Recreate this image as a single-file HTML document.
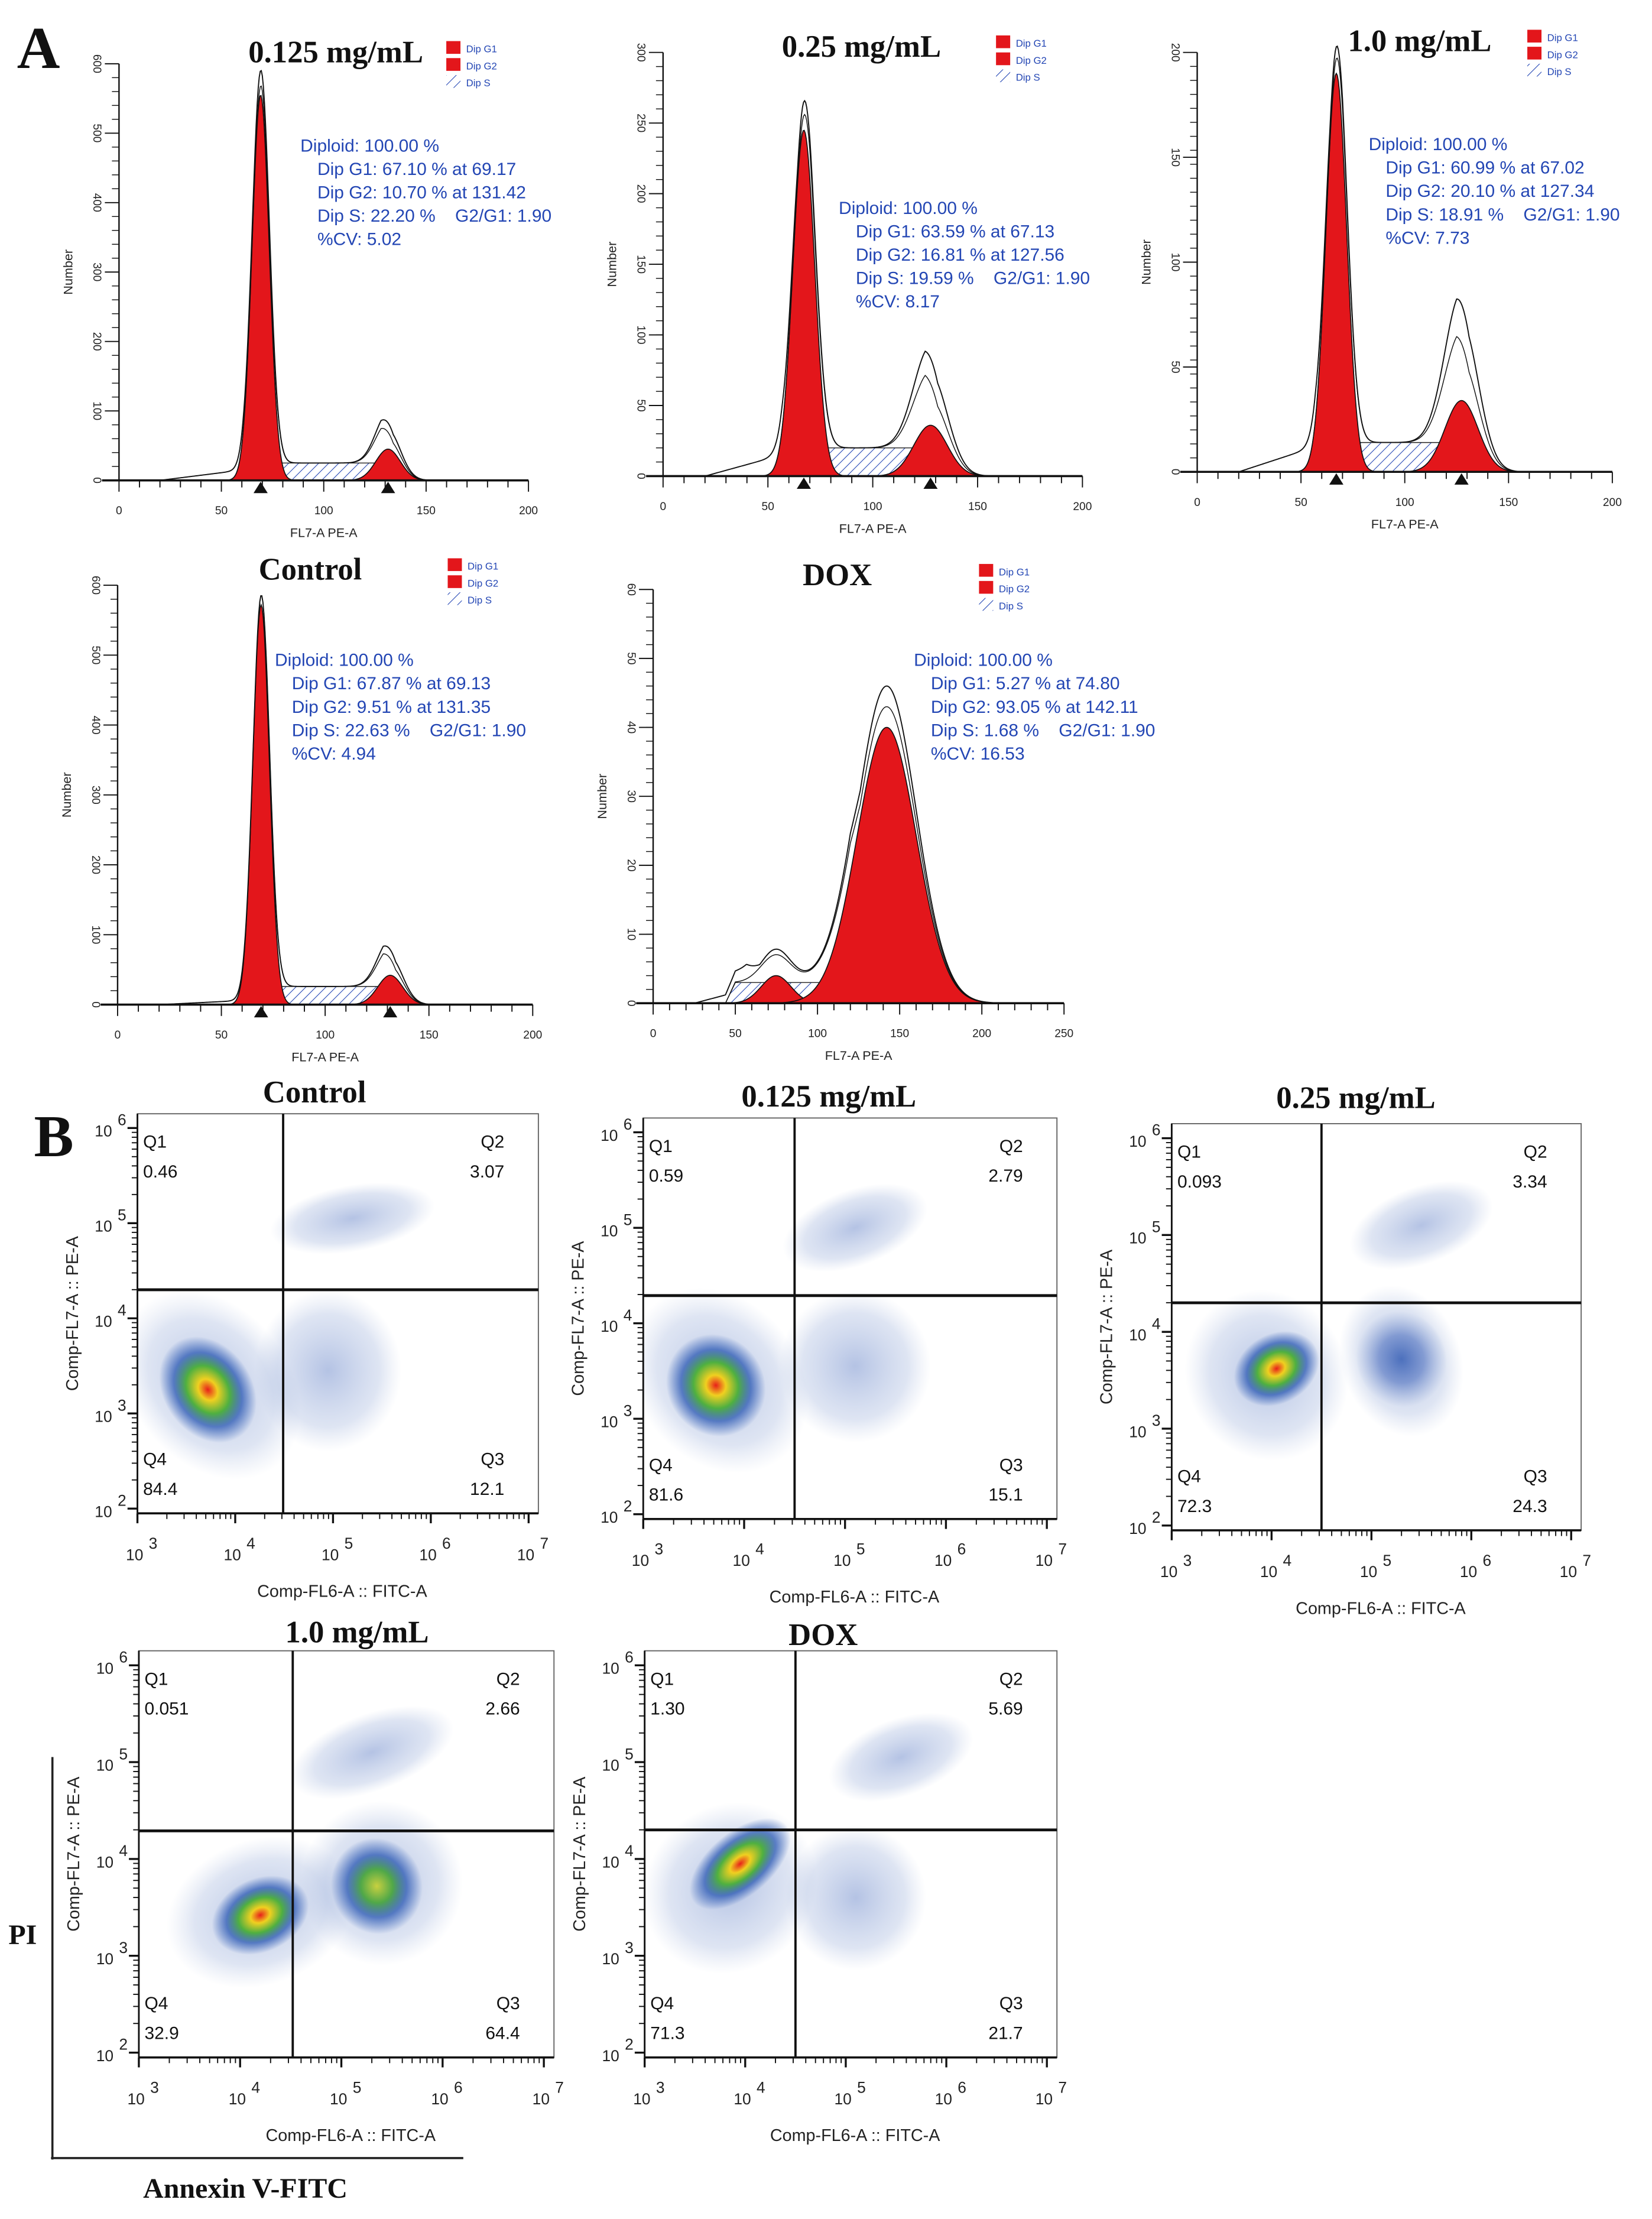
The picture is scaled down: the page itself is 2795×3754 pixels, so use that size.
<!DOCTYPE html>
<html><head><meta charset="utf-8">
<style>
html,body{margin:0;padding:0;background:#fff;}
svg{display:block;}
.ttl{font-family:"Liberation Serif",serif;font-weight:bold;font-size:22px;fill:#111;}
.stat{font-family:"Liberation Sans",sans-serif;font-size:12.5px;fill:#2346b4;white-space:pre;}
.leg{font-family:"Liberation Sans",sans-serif;font-size:7px;fill:#2346b4;}
.tk{font-family:"Liberation Sans",sans-serif;font-size:8px;fill:#222;}
.ax{font-family:"Liberation Sans",sans-serif;font-size:9px;fill:#222;}
.dtk{font-family:"Liberation Sans",sans-serif;font-size:11px;fill:#222;}
.dax{font-family:"Liberation Sans",sans-serif;font-size:12px;fill:#222;}
.q{font-family:"Liberation Sans",sans-serif;font-size:12.5px;fill:#111;}
</style></head>
<body>
<svg id="fig" xmlns="http://www.w3.org/2000/svg" width="2795" height="3754" viewBox="0 0 1166 1566" preserveAspectRatio="none">
<defs>
<pattern id="hatch" patternUnits="userSpaceOnUse" width="5" height="5" patternTransform="rotate(45)">
<line x1="0" y1="0" x2="0" y2="5" stroke="#2346b4" stroke-width="0.9"/></pattern>
<radialGradient id="hot"><stop offset="0" stop-color="#e8201a"/><stop offset="0.2" stop-color="#f0d020"/><stop offset="0.45" stop-color="#4fb040"/><stop offset="0.7" stop-color="#2050b0" stop-opacity="0.7"/><stop offset="1" stop-color="#2050b0" stop-opacity="0"/></radialGradient>
<radialGradient id="warm"><stop offset="0" stop-color="#c8d040"/><stop offset="0.35" stop-color="#50a848"/><stop offset="0.65" stop-color="#2050b0" stop-opacity="0.7"/><stop offset="1" stop-color="#2050b0" stop-opacity="0"/></radialGradient>
<radialGradient id="dense"><stop offset="0" stop-color="#2a55b0" stop-opacity="0.75"/><stop offset="0.5" stop-color="#3a60b8" stop-opacity="0.5"/><stop offset="1" stop-color="#6a88c8" stop-opacity="0"/></radialGradient>
<radialGradient id="sparse"><stop offset="0" stop-color="#3a60b8" stop-opacity="0.38"/><stop offset="0.7" stop-color="#6a88c8" stop-opacity="0.22"/><stop offset="1" stop-color="#8aa0d0" stop-opacity="0"/></radialGradient>
</defs>
<text x="12" y="48" font-family="Liberation Serif,serif" font-weight="bold" font-size="42" fill="#111">A</text>
<text x="24" y="816" font-family="Liberation Serif,serif" font-weight="bold" font-size="42" fill="#111">B</text>
<g id="hists"></g>
<g id="dots"></g>
<g>
<line x1="37" y1="1240" x2="37" y2="1524" stroke="#222" stroke-width="1.5"/>
<line x1="36" y1="1523" x2="327" y2="1523" stroke="#222" stroke-width="1.5"/>
<text x="6" y="1372" font-family="Liberation Serif,serif" font-weight="bold" font-size="20" fill="#111">PI</text>
<text x="101" y="1551" font-family="Liberation Serif,serif" font-weight="bold" font-size="20" fill="#111">Annexin V-FITC</text>
</g>
</svg>
<script>
// ---- Histogram data (G1/G2 = [mean, peak count, sd]; S = [start, end, level]; raw = multipliers)
const histTitles = ["0.125 mg/mL","0.25 mg/mL","1.0 mg/mL","Control","DOX"];
const histYMax = [600,300,200,600,60];
const histXMax = [200,200,200,200,250];
const histYTicks = [[0,100,200,300,400,500,600],[0,50,100,150,200,250,300],[0,50,100,150,200],[0,100,200,300,400,500,600],[0,10,20,30,40,50,60]];
const histXTicks = [[0,50,100,150,200],[0,50,100,150,200],[0,50,100,150,200],[0,50,100,150,200],[0,50,100,150,200,250]];
const histG1 = [[69.17,555,4.2],[67.13,245,5.2],[67.02,190,5.0],[69.13,572,4.0],[74.8,4,9]];
const histG2 = [[131.42,45,6],[127.56,36,8],[127.34,34,8],[131.35,42,6],[142.11,40,18]];
const histS = [[72,128,25],[70,125,20],[70,125,14],[72,128,26],[50,120,3]];
const histRawG1 = [1.04,1.04,1.03,1.0,1.2];
const histRawG2 = [1.6,2.0,2.1,1.6,1.15];
const histDebris = [15,15,12,6,2];
const histStats = [
 ["Diploid: 100.00 %","Dip G1: 67.10 % at 69.17","Dip G2: 10.70 % at 131.42","Dip S: 22.20 %    G2/G1: 1.90","%CV: 5.02"],
 ["Diploid: 100.00 %","Dip G1: 63.59 % at 67.13","Dip G2: 16.81 % at 127.56","Dip S: 19.59 %    G2/G1: 1.90","%CV: 8.17"],
 ["Diploid: 100.00 %","Dip G1: 60.99 % at 67.02","Dip G2: 20.10 % at 127.34","Dip S: 18.91 %    G2/G1: 1.90","%CV: 7.73"],
 ["Diploid: 100.00 %","Dip G1: 67.87 % at 69.13","Dip G2: 9.51 % at 131.35","Dip S: 22.63 %    G2/G1: 1.90","%CV: 4.94"],
 ["Diploid: 100.00 %","Dip G1: 5.27 % at 74.80","Dip G2: 93.05 % at 142.11","Dip S: 1.68 %    G2/G1: 1.90","%CV: 16.53"]];
// layout (px)
const histBox = [[84,45,373,339],[468,37,764,336],[845,37,1138,333],[83,413,376,709],[461,416,751,708]];
const histTitlePos = [[237,44],[608,40],[1002,36],[219,409],[591,413]];
const histStatPos = [[212,107],[592,151],[966,106],[194,470],[645,470]];

const NS="http://www.w3.org/2000/svg";
function mk(tag,attrs,parent,txt){const e=document.createElementNS(NS,tag);for(const k in attrs)e.setAttribute(k,attrs[k]);if(txt!==undefined)e.textContent=txt;parent.appendChild(e);return e;}
function gauss(x,c){return c[1]*Math.exp(-0.5*Math.pow((x-c[0])/c[2],2));}
function sComp(x,s){if(x<s[0]-6||x>s[1]+6)return 0;let f=1;if(x<s[0])f=(x-(s[0]-6))/6;if(x>s[1])f=((s[1]+6)-x)/6;return s[2]*f;}

const H=document.getElementById('hists');
for(let i=0;i<5;i++){
 const [x0,y0,x1,y1]=histBox[i];
 const g=mk('g',{},H);
 
 
 const sx=v=>x0+(x1-x0)*v/histXMax[i];
 const sy=v=>y1-(y1-y0)*Math.min(v,histYMax[i]*1.02)/histYMax[i];
 const step=0.5;
 let d='M'+sx(histS[i][0]-6)+','+y1;
 for(let x=histS[i][0]-6;x<=histS[i][1]+6;x+=step)d+=' L'+sx(x)+','+sy(sComp(x,histS[i]));
 d+=' L'+sx(histS[i][1]+6)+','+y1+'Z';
 const sp=mk('path',{d:d,fill:'url(#hatch)',stroke:'#222','stroke-width':0.6},g);
 
 
 [histG1[i],histG2[i]].forEach((c,k)=>{
  let p='M'+sx(c[0]-4*c[2])+','+y1;
  for(let x=c[0]-4*c[2];x<=c[0]+4*c[2];x+=step)p+=' L'+sx(x)+','+sy(gauss(x,c));
  p+=' L'+sx(c[0]+4*c[2])+','+y1+'Z';
  const e=mk('path',{d:p,fill:'#e3161b',stroke:'#111','stroke-width':0.7},g);
  
  
 });
 const xs0=histXMax[i]*0.1;
 let r='',r2='';
 for(let x=xs0;x<=histXMax[i]*0.95;x+=step){
  const lim=histG1[i][0]-2*histG1[i][2];
  const deb=histDebris[i]*Math.max(0,Math.min(1,(x-xs0)/(lim-xs0)))*Math.max(0,Math.min(1,(lim+8-x)/8));
  const v=gauss(x,histG1[i])*histRawG1[i]+gauss(x,histG2[i])*histRawG2[i]+sComp(x,histS[i])+deb;
  const v2=gauss(x,histG1[i])+gauss(x,histG2[i])*(1+(histRawG2[i]-1)*0.5)+sComp(x,histS[i]);
  r+=(r?' L':'M')+sx(x)+','+sy(v);
  r2+=(r2?' L':'M')+sx(x)+','+sy(v2);
 }
 const rc=mk('path',{d:r,fill:'none',stroke:'#111','stroke-width':0.8},g);
 
 
 const fc=mk('path',{d:r2,fill:'none',stroke:'#111','stroke-width':0.6},g);
 
 
 mk('line',{x1:x0,y1:y0,x2:x0,y2:y1,stroke:'#111','stroke-width':1},g);
 mk('line',{x1:x0-12,y1:y1,x2:x1,y2:y1,stroke:'#111','stroke-width':1.5},g);
 histYTicks[i].forEach(t=>{const y=sy(t);mk('line',{x1:x0-10,y1:y,x2:x0,y2:y,stroke:'#111','stroke-width':0.8},g);
  const tt=mk('text',{x:x0-18,y:y,class:'tk','text-anchor':'middle',transform:'rotate(90 '+(x0-18)+' '+y+')'},g,String(t));
  });
 for(let t=0;t<=histXMax[i];t+=10){const x=sx(t);mk('line',{x1:x,y1:y1,x2:x,y2:y1+(t%50?5:8),stroke:'#111','stroke-width':0.8},g);}
 for(let t=0;t<histYMax[i];t+=histYMax[i]/30){const y=sy(t);mk('line',{x1:x0-5,y1:y,x2:x0,y2:y,stroke:'#111','stroke-width':0.6},g);}
 histXTicks[i].forEach(t=>{const tt=mk('text',{x:sx(t),y:y1+24,class:'tk','text-anchor':'middle'},g,String(t));
  });
 const xl=mk('text',{x:(x0+x1)/2,y:y1+40,class:'ax','text-anchor':'middle'},g,'FL7-A PE-A');
 
 const ym=(y0+y1)/2;
 const yl=mk('text',{x:x0-33,y:ym,class:'ax','text-anchor':'middle',transform:'rotate(-90 '+(x0-33)+' '+ym+')'},g,'Number');
 
 if(i<4)[histG1[i][0],histG2[i][0]].forEach(m=>{const x=sx(m);mk('polygon',{points:(x-5)+','+(y1+9)+' '+(x+5)+','+(y1+9)+' '+x+','+(y1+1),fill:'#111'},g);});
 const ti=mk('text',{x:histTitlePos[i][0],y:histTitlePos[i][1],class:'ttl','text-anchor':'middle'},g,histTitles[i]);
 
 const lx=histTitlePos[i][0]+(i==0?78:(i==1?95:(i==2?76:(i==3?97:100)))), ly=histTitlePos[i][1]-9;
 const lg=mk('g',{},g);
 
 mk('rect',{x:lx,y:ly-6,width:10,height:9,fill:'#e3161b'},lg);
 mk('rect',{x:lx,y:ly+6,width:10,height:9,fill:'#e3161b'},lg);
 mk('rect',{x:lx,y:ly+18,width:10,height:9,fill:'url(#hatch)'},lg);
 ['Dip G1','Dip G2','Dip S'].forEach((s,k)=>mk('text',{x:lx+14,y:ly+2+k*12,class:'leg'},lg,s));
 const st=mk('g',{},g);
 
 histStats[i].forEach((s,k)=>mk('text',{x:histStatPos[i][0]+(k?12:0),y:histStatPos[i][1]+k*16.5,class:'stat'},st,s));
}

// ---- Dot plot data
const dotTitles=["Control","0.125 mg/mL","0.25 mg/mL","1.0 mg/mL","DOX"];
const dotQ1=["0.46","0.59","0.093","0.051","1.30"];
const dotQ2=["3.07","2.79","3.34","2.66","5.69"];
const dotQ3=["12.1","15.1","24.3","64.4","21.7"];
const dotQ4=["84.4","81.6","72.3","32.9","71.3"];
const dotGateX=[4.49,4.5,4.5,4.52,4.5];
const dotGateY=[4.3,4.29,4.3,4.29,4.3];
// clusters: [log10 x, log10 y, rx (decades), ry (decades), angle, type]
const dotClusters=[
 [[3.75,3.3,0.8,1.1,-40,'sparse'],[4.95,3.45,0.75,0.85,0,'sparse'],[5.2,5.05,0.85,0.35,-10,'sparse'],[3.72,3.25,0.45,0.6,-35,'hot']],
 [[3.75,3.4,0.8,1.05,-40,'sparse'],[5.1,3.55,0.75,0.8,-20,'sparse'],[5.1,5.0,0.75,0.4,-20,'sparse'],[3.72,3.35,0.48,0.55,-35,'hot']],
 [[3.95,3.55,0.8,0.9,-30,'sparse'],[5.3,3.7,0.6,0.8,-20,'sparse'],[5.5,5.1,0.75,0.4,-20,'sparse'],[4.05,3.62,0.45,0.36,-30,'hot'],[5.3,3.72,0.45,0.5,-20,'dense']],
 [[4.2,3.45,0.95,0.75,-20,'sparse'],[5.4,3.75,0.8,0.85,-10,'sparse'],[5.3,5.1,0.85,0.4,-20,'sparse'],[4.2,3.42,0.5,0.38,-25,'hot'],[5.35,3.72,0.45,0.5,-20,'warm']],
 [[3.85,3.7,0.9,0.85,-40,'sparse'],[5.1,3.6,0.7,0.75,0,'sparse'],[5.55,5.05,0.75,0.4,-20,'sparse'],[3.95,3.95,0.6,0.33,-40,'hot']]];
const dotBox=[[97,786,380,1068],[454,789,746,1072],[827,793,1116,1080],[98,1165,391,1452],[455,1165,746,1452]];
const dotTitlePos=[[222,778],[585,781],[957,782],[252,1159],[581,1161]];
const dotXTicks=[3,4,5,6,7];
const dotYTicks=[2,3,4,5,6];

const D=document.getElementById('dots');
for(let i=0;i<5;i++){
 const [x0,y0,x1,y1]=dotBox[i];
 const g=mk('g',{},D);
 
 
 const xd=(x1-x0)/4.1, yd=(y1-y0)/4.2;
 const sx=v=>x0+(v-3)*xd, sy=v=>y1-(v-1.95)*yd;
 const cp=mk('clipPath',{id:'clip'+i},g);
 mk('rect',{x:x0,y:y0,width:x1-x0,height:y1-y0},cp);
 const cg=mk('g',{'clip-path':'url(#clip'+i+')'},g);
 dotClusters[i].forEach(c=>{
  const cx=sx(c[0]),cy=sy(c[1]);
  const e=mk('ellipse',{cx:cx,cy:cy,rx:c[2]*xd,ry:c[3]*yd,fill:'url(#'+c[5]+')',transform:'rotate('+c[4]+' '+cx+' '+cy+')'},cg);
  
  
 });
 mk('rect',{x:x0,y:y0,width:x1-x0,height:y1-y0,fill:'none',stroke:'#666','stroke-width':0.8},g);
 const gv=mk('line',{x1:sx(dotGateX[i]),y1:y0,x2:sx(dotGateX[i]),y2:y1,stroke:'#111','stroke-width':1.6},g);
 
 const gh=mk('line',{x1:x0,y1:sy(dotGateY[i]),x2:x1,y2:sy(dotGateY[i]),stroke:'#111','stroke-width':2},g);
 
 mk('line',{x1:x0,y1:y1,x2:x1,y2:y1,stroke:'#111','stroke-width':1.5},g);
 mk('line',{x1:x0,y1:y0,x2:x0,y2:y1,stroke:'#111','stroke-width':1.2},g);
 dotXTicks.forEach(t=>{
  const x=sx(t);mk('line',{x1:x,y1:y1,x2:x,y2:y1+7,stroke:'#111','stroke-width':1.4},g);
  if(t<7)for(let m=2;m<10;m++){const xm=sx(t+Math.log10(m));mk('line',{x1:xm,y1:y1,x2:xm,y2:y1+4,stroke:'#111','stroke-width':0.8},g);}
  const tx=mk('text',{x:x-2,y:y1+33,class:'dtk','text-anchor':'middle'},g,'10');
  
  mk('text',{x:x+8,y:y1+25,class:'dtk','font-size':'9'},g,String(t));
 });
 dotYTicks.forEach(t=>{
  const y=sy(t);mk('line',{x1:x0-7,y1:y,x2:x0,y2:y,stroke:'#111','stroke-width':1.4},g);
  if(t<6)for(let m=2;m<10;m++){const ym=sy(t+Math.log10(m));mk('line',{x1:x0-4,y1:ym,x2:x0,y2:ym,stroke:'#111','stroke-width':0.8},g);}
  const ty=mk('text',{x:x0-24,y:y+6,class:'dtk','text-anchor':'middle'},g,'10');
  
  mk('text',{x:x0-14,y:y-2,class:'dtk','font-size':'9'},g,String(t));
 });
 const xl=mk('text',{x:(x0+x1)/2+3,y:y1+59,class:'dax','text-anchor':'middle'},g,'Comp-FL6-A :: FITC-A');
 
 const ym=(y0+y1)/2, yx=x0-42;
 const yl=mk('text',{x:yx,y:ym,class:'dax','text-anchor':'middle',transform:'rotate(-90 '+yx+' '+ym+')'},g,'Comp-FL7-A :: PE-A');
 
 const ti=mk('text',{x:dotTitlePos[i][0],y:dotTitlePos[i][1],class:'ttl','text-anchor':'middle'},g,dotTitles[i]);
 
 const ql=mk('g',{},g);
 
 mk('text',{x:x0+4,y:y0+24,class:'q'},ql,'Q1');
 mk('text',{x:x0+4,y:y0+45,class:'q'},ql,dotQ1[i]);
 mk('text',{x:x1-24,y:y0+24,class:'q','text-anchor':'end'},ql,'Q2');
 mk('text',{x:x1-24,y:y0+45,class:'q','text-anchor':'end'},ql,dotQ2[i]);
 mk('text',{x:x0+4,y:y1-34,class:'q'},ql,'Q4');
 mk('text',{x:x0+4,y:y1-13,class:'q'},ql,dotQ4[i]);
 mk('text',{x:x1-24,y:y1-34,class:'q','text-anchor':'end'},ql,'Q3');
 mk('text',{x:x1-24,y:y1-13,class:'q','text-anchor':'end'},ql,dotQ3[i]);
}
</script>
</body></html>
